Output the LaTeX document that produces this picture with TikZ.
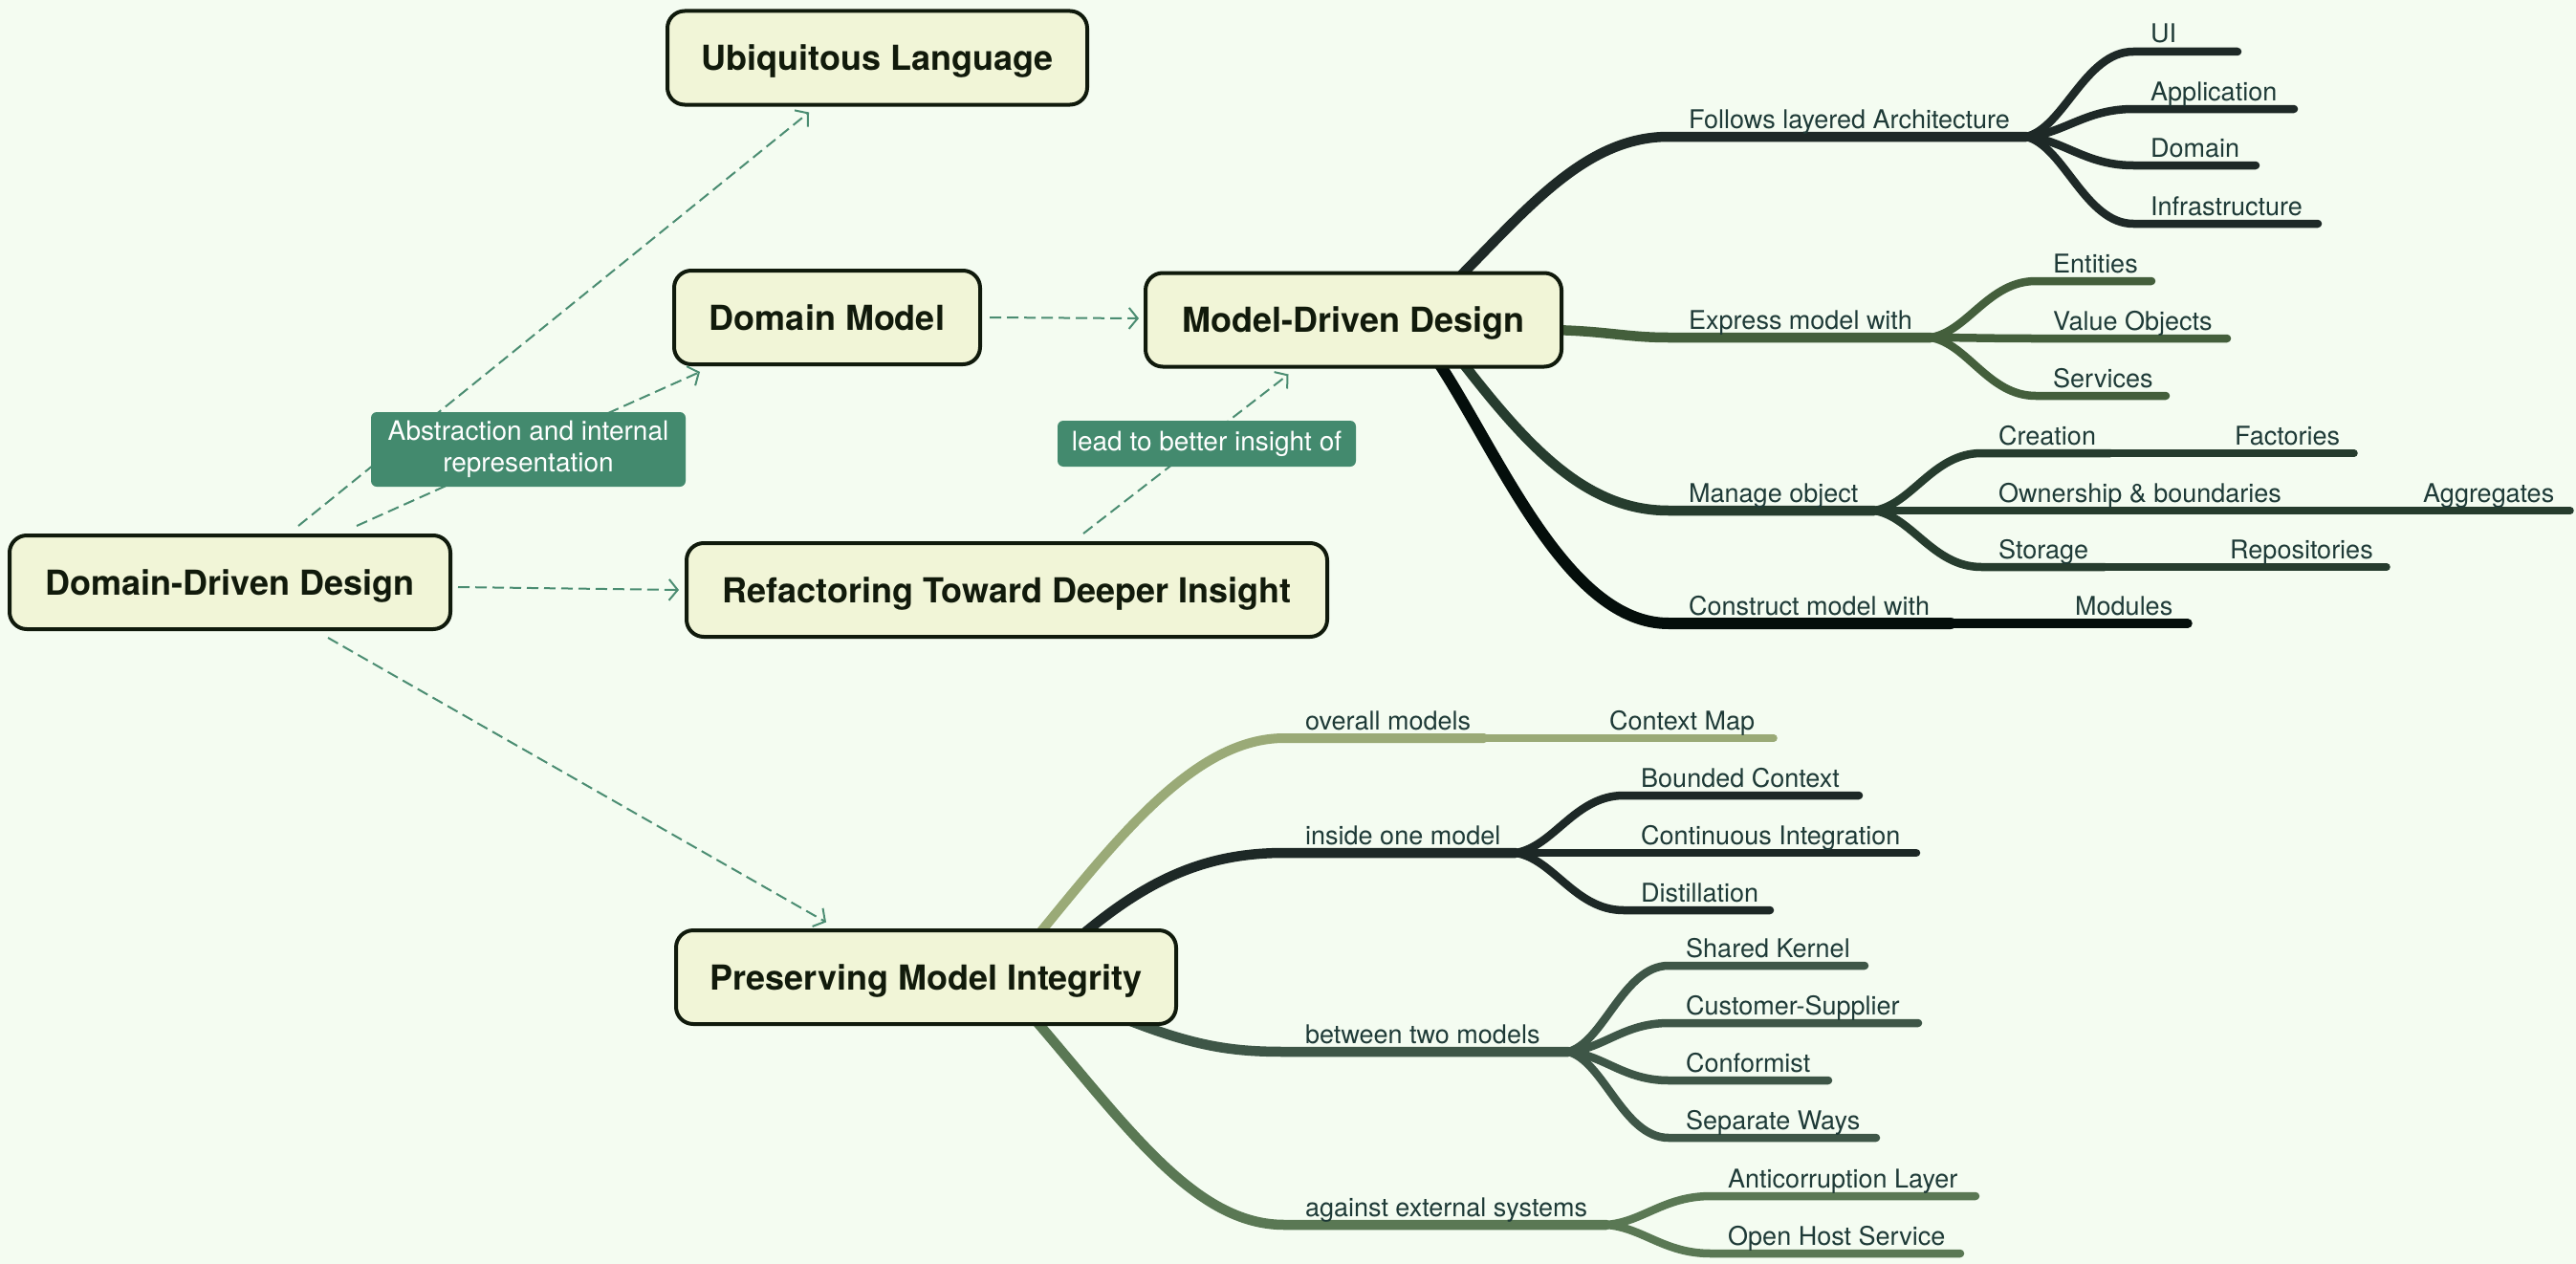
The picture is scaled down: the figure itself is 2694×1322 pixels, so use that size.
\documentclass[tikz,border=0pt]{standalone}
\usepackage{fontspec}
\setmainfont{TeX Gyre Heros}
\usetikzlibrary{arrows.meta}
\definecolor{bg}{HTML}{F4FCF1}
\definecolor{boxfill}{HTML}{F1F5D7}
\definecolor{boxline}{HTML}{101A0C}
\definecolor{boxtext}{HTML}{111A0B}
\definecolor{leaftext}{HTML}{1E3A37}
\definecolor{labfill}{HTML}{438A6E}
\definecolor{dep}{HTML}{4B8D72}
\definecolor{clFL}{HTML}{1E2927}
\definecolor{clEX}{HTML}{445F3C}
\definecolor{clMO}{HTML}{263C2E}
\definecolor{clCM}{HTML}{040E0B}
\definecolor{clOV}{HTML}{9AAA77}
\definecolor{clIN}{HTML}{1D2826}
\definecolor{clBT}{HTML}{3E5647}
\definecolor{clAG}{HTML}{5A7854}
\tikzset{
  topic/.style={draw=boxline, line width=4pt, fill=boxfill, rounded corners=18pt,
    minimum height=98pt, inner xsep=4pt, inner ysep=0pt,
    font=\fontsize{36}{43}\selectfont\bfseries, text=boxtext,
    text height=26pt, text depth=0pt},
  leaf/.style={inner sep=0pt, font=\fontsize{27}{32}\selectfont, text=leaftext, anchor=base west},
  lab/.style={fill=labfill, text=white, rounded corners=6pt, inner sep=0pt, align=center,
    font=\fontsize{28}{33}\selectfont},
  depline/.style={draw=dep, line width=2pt, dash pattern=on 12pt off 6pt,
    -{Straight Barb[length=9pt,width=22pt,line width=2pt]}},
  mainbr/.style={line width=10.5pt, line cap=round, draw=#1},
  kidbr/.style={line width=8.5pt, line cap=round, draw=#1},
  gkbr/.style={line width=7.5pt, line cap=round, draw=#1},
}
% #1 style, #2 fx, #3 fy, #4 hx, #5 hy, #6 ex, #7 name, #8 text
\newcommand\twig[8]{%
  \coordinate (#7-h) at (#4,#5);
  \coordinate (#7-e) at (#6,#5);
  \draw[#1] (#2,#3) .. controls ({#2+0.35*(#4-#2)},{#3+0.1*(#5-#3)}) and ({#2+0.55*(#4-#2)},#5) .. (#7-h) -- (#7-e);
  \node[leaf] (#7) at ({#4+18},{#5-9}) {#8};
}
\begin{document}
\begin{tikzpicture}[x=1pt,y=-1pt]
\fill[bg] (0,0) rectangle (2694,1322);
\useasboundingbox (0,0) rectangle (2694,1322);

% ---------- Model-Driven Design branches ----------
\coordinate (fFL) at (2119,143);
\coordinate (fEX) at (2019,353);
\coordinate (fMO) at (1960,534);
\coordinate (eCM) at (2040,652);
\draw[mainbr=clFL] (1526,290) .. controls (1600,215) and (1660,143) .. (1745,143) -- (fFL);
\node[leaf] (follows) at (1766,134) {Follows layered Architecture};
\draw[mainbr=clEX] (1620,345) .. controls (1680,346) and (1700,353) .. (1745,353) -- (fEX);
\node[leaf] (express) at (1766,344) {Express model with};
\draw[mainbr=clMO] (1530,380) .. controls (1600,470) and (1660,534) .. (1745,534) -- (fMO);
\node[leaf] (manage) at (1766,525) {Manage object};
\draw[line width=12pt, line cap=round, draw=clCM] (1505,380) .. controls (1570,480) and (1640,652) .. (1745,652) -- (eCM);
\node[leaf] (construct) at (1766,643) {Construct model with};
\draw[line width=9.5pt, line cap=round, draw=clCM] (eCM) -- (2288,652);
\node[leaf] (modules) at (2170,643) {Modules};

\twig{kidbr=clFL}{2119}{143}{2231}{54}{2340}{ui}{UI}
\twig{kidbr=clFL}{2119}{143}{2231}{114}{2399}{app}{Application}
\twig{kidbr=clFL}{2119}{143}{2231}{173}{2359}{dom}{Domain}
\twig{kidbr=clFL}{2119}{143}{2231}{234}{2424}{inf}{Infrastructure}

\twig{kidbr=clEX}{2019}{353}{2129}{294}{2250}{ent}{Entities}
\twig{kidbr=clEX}{2019}{353}{2129}{354}{2329}{vo}{Value Objects}
\twig{kidbr=clEX}{2019}{353}{2129}{414}{2265}{srv}{Services}

\twig{kidbr=clMO}{1960}{534}{2072}{474}{2207}{cre}{Creation}
\twig{kidbr=clMO}{1960}{534}{2072}{534}{2403}{own}{Ownership \& boundaries}
\twig{kidbr=clMO}{1960}{534}{2072}{593}{2201}{sto}{Storage}
\draw[gkbr=clMO] (cre-e) -- (2462,474);
\node[leaf] (fac) at (2337,465) {Factories};
\draw[gkbr=clMO] (own-e) -- (2688,534);
\node[leaf] (agg) at (2534,525) {Aggregates};
\draw[gkbr=clMO] (sto-e) -- (2496,593);
\node[leaf] (rep) at (2332,584) {Repositories};

% ---------- Preserving Model Integrity branches ----------
\coordinate (eOV) at (1552,772);
\coordinate (fIN) at (1585,892);
\coordinate (fBT) at (1640,1100);
\coordinate (fAG) at (1680,1281);
\draw[line width=10pt, line cap=round, draw=clOV] (1084,980) .. controls (1170,875) and (1250,772) .. (1343,772) -- (eOV);
\node[leaf] (overall) at (1365,763) {overall models};
\draw[gkbr=clOV] (eOV) -- (1855,772);
\node[leaf] (ctxmap) at (1683,763) {Context Map};
\draw[mainbr=clIN] (1129,980) .. controls (1200,920) and (1260,892) .. (1343,892) -- (fIN);
\node[leaf] (inside) at (1365,883) {inside one model};
\draw[mainbr=clBT] (1175,1065) .. controls (1250,1095) and (1290,1100) .. (1343,1100) -- (fBT);
\node[leaf] (between) at (1365,1091) {between two models};
\draw[mainbr=clAG] (1082,1066) .. controls (1180,1180) and (1250,1281) .. (1343,1281) -- (fAG);
\node[leaf] (against) at (1365,1272) {against external systems};

\twig{kidbr=clIN}{1585}{892}{1698}{832}{1944}{bc}{Bounded Context}
\twig{kidbr=clIN}{1585}{892}{1698}{892}{2004}{ci}{Continuous Integration}
\twig{kidbr=clIN}{1585}{892}{1698}{952}{1851}{dis}{Distillation}

\twig{kidbr=clBT}{1640}{1100}{1745}{1010}{1950}{sk}{Shared Kernel}
\twig{kidbr=clBT}{1640}{1100}{1745}{1070}{2006}{cs}{Customer-Supplier}
\twig{kidbr=clBT}{1640}{1100}{1745}{1130}{1912}{conf}{Conformist}
\twig{kidbr=clBT}{1640}{1100}{1745}{1190}{1962}{sw}{Separate Ways}

\twig{kidbr=clAG}{1680}{1281}{1789}{1251}{2066}{acl}{Anticorruption Layer}
\twig{kidbr=clAG}{1680}{1281}{1789}{1311}{2050}{ohs}{Open Host Service}

% ---------- topic boxes ----------
\node[topic, minimum width=439pt] (ul) at (917.5,60.5) {Ubiquitous Language};
\node[topic, minimum width=320pt] (dm) at (865,332) {Domain Model};
\node[topic, minimum width=435pt] (mdd) at (1415.5,334.5) {Model-Driven Design};
\node[topic, minimum width=461pt] (ddd) at (240.5,609) {Domain-Driven Design};
\node[topic, minimum width=670pt] (rf) at (1053,617) {Refactoring Toward Deeper Insight};
\node[topic, minimum width=523pt] (pmi) at (968.5,1022) {Preserving Model Integrity};

% ---------- dashed relations ----------
\draw[depline] ([xshift=71.5pt,yshift=8pt]ddd.north) -- ([xshift=-71.5pt,yshift=-6pt]ul.south);
\draw[depline] ([xshift=132.5pt,yshift=8pt]ddd.north) -- ([xshift=-133pt,yshift=-6pt]dm.south);
\draw[depline] ([xshift=6pt,yshift=-5pt]ddd.east) -- ([xshift=-6pt]rf.west);
\draw[depline] ([xshift=102.5pt,yshift=-7pt]ddd.south) -- ([xshift=-104.5pt,yshift=6.5pt]pmi.north);
\draw[depline] ([xshift=8pt]dm.east) -- ([xshift=-5pt,yshift=1.5pt]mdd.west);
\draw[depline] ([xshift=80pt,yshift=8pt]rf.north) -- ([xshift=-68pt,yshift=-6pt]mdd.south);

\node[lab, minimum width=329pt, minimum height=78pt] (lab1) at (552.5,470) {Abstraction and internal\\representation};
\node[lab, minimum width=312pt, minimum height=48pt] (lab2) at (1262,464) {lead to better insight of};
\end{tikzpicture}
\end{document}
